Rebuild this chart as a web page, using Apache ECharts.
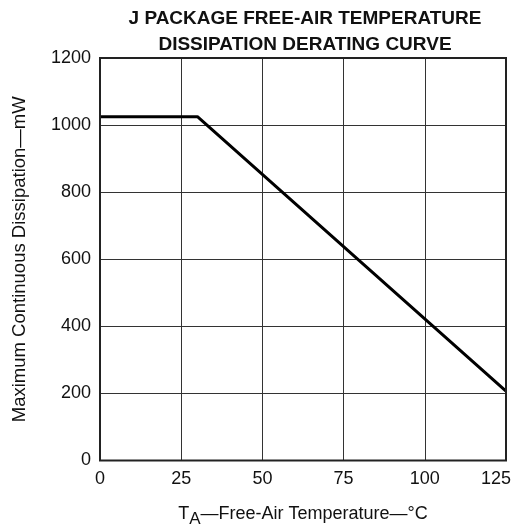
<!DOCTYPE html>
<html><head><meta charset="utf-8">
<script src="https://cdn.jsdelivr.net/npm/echarts@6/dist/echarts.min.js"></script>
<style>html,body{margin:0;padding:0;background:#fff}#c{width:517px;height:528px}</style>
</head><body><div id="c"></div>
<script>
const temperature = [0, 30, 125];
const dissipation = [1025, 1025, 207];
const xTicks = [0, 25, 50, 75, 100, 125];
const yTicks = [0, 200, 400, 600, 800, 1000, 1200];
const titleLines = ['J PACKAGE FREE-AIR TEMPERATURE', 'DISSIPATION DERATING CURVE'];

const chart = echarts.init(document.getElementById('c'));
const font = 'Liberation Sans, Arial, Helvetica, sans-serif';
const xMax = xTicks[xTicks.length - 1];
chart.setOption({
  backgroundColor: '#fff',
  animation: false,
  title: {
    text: titleLines.join('\n'),
    left: 300, top: 1, textAlign: 'center',
    textStyle: {fontFamily: font, fontSize: 19, fontWeight: 'bold', color: '#111', lineHeight: 26}
  },
  grid: {left: 100, right: 11, top: 58, bottom: 67.5, containLabel: false, outerBoundsMode: 'none'},
  xAxis: {
    type: 'value', min: xTicks[0], max: xMax, interval: 25,
    axisLine: {show: false}, axisTick: {show: false},
    splitLine: {show: true, lineStyle: {color: '#333', width: 1}},
    axisLabel: {
      fontFamily: font, fontSize: 18, color: '#111', margin: 10,
      formatter: v => v === xMax ? '{m|' + v + '}' : String(v),
      rich: {m: {fontFamily: font, fontSize: 18, color: '#111', padding: [0, 20, 0, 0]}}
    },
    name: '{t|T}{s|A}{t|\u2014Free-Air Temperature\u2014\u00B0C}',
    nameLocation: 'middle', nameGap: 44,
    nameTextStyle: {
      rich: {
        t: {fontFamily: font, fontSize: 18, color: '#111', height: 20, verticalAlign: 'top'},
        s: {fontFamily: font, fontSize: 17, color: '#111', height: 20, padding: [5, 0, 0, 0], verticalAlign: 'top'}
      }
    }
  },
  yAxis: {
    type: 'value', min: yTicks[0], max: yTicks[yTicks.length - 1], interval: 200,
    axisLine: {show: false}, axisTick: {show: false},
    splitLine: {show: true, lineStyle: {color: '#333', width: 1}},
    axisLabel: {fontFamily: font, fontSize: 18, color: '#111', margin: 9, formatter: v => String(v)},
    name: 'Maximum Continuous Dissipation\u2014mW',
    nameLocation: 'middle', nameGap: 71,
    nameTextStyle: {fontFamily: font, fontSize: 18.5, color: '#111'}
  },
  series: [
    {
      type: 'line', data: temperature.map((t, i) => [t, dissipation[i]]),
      symbol: 'none', lineStyle: {color: '#000', width: 3}
    }
  ]
});
const p0 = chart.convertToPixel({gridIndex: 0}, [xTicks[0], yTicks[0]]);
const p1 = chart.convertToPixel({gridIndex: 0}, [xMax, yTicks[yTicks.length - 1]]);
chart.setOption({graphic: [{
  type: 'rect', shape: {x: p0[0], y: p1[1], width: p1[0] - p0[0], height: p0[1] - p1[1]},
  style: {fill: null, stroke: '#222', lineWidth: 2}, z: 10
}]});
</script></body></html>
